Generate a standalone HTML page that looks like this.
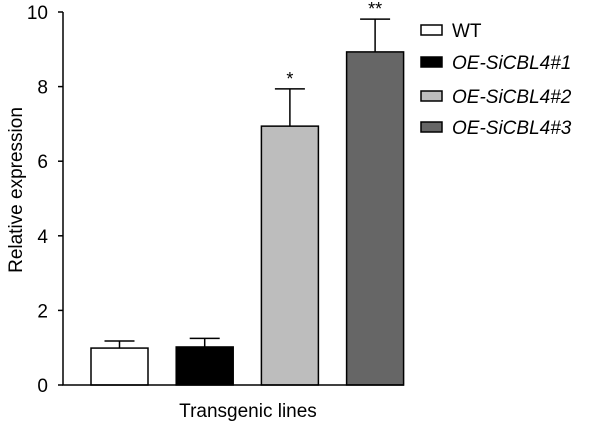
<!DOCTYPE html>
<html><head><meta charset="utf-8"><style>
html,body{margin:0;padding:0;background:#fff;}
svg{display:block;font-family:"Liberation Sans",Arial,sans-serif;}
</style></head><body>
<svg id="chart" width="600" height="425" viewBox="0 0 600 425"></svg>
<script>
const categories = ["WT", "OE-SiCBL4#1", "OE-SiCBL4#2", "OE-SiCBL4#3"];
const values = [0.99, 1.02, 6.94, 8.93];
const errors = [0.19, 0.23, 1.0, 0.88];
const marks = ["", "", "*", "**"];
const yTicks = [0, 2, 4, 6, 8, 10];
const fills = ["#ffffff", "#000000", "#bdbdbd", "#666666"];

const svg = document.getElementById('chart');
const NS = "http://www.w3.org/2000/svg";
const x0 = 63, x1 = 404, y0 = 385, yTop = 12;
const yScale = v => y0 - (v / 10) * (y0 - yTop);
const barW = 57, step = 85.2, firstX = 91;
const xScale = i => firstX + i * step;
function mk(tag, attrs) { const e = document.createElementNS(NS, tag); for (const k in attrs) e.setAttribute(k, attrs[k]); svg.appendChild(e); return e; }

values.forEach((v, i) => {
  const bx = xScale(i), by = yScale(v);
  const r = mk('rect', {x: bx, y: by, width: barW, height: y0 - by, fill: fills[i], stroke: '#000', 'stroke-width': 1.5});
  
  
  const cx = bx + barW / 2, ey = yScale(v + errors[i]);
  const l = mk('line', {x1: cx, x2: cx, y1: by, y2: ey, stroke: '#000', 'stroke-width': 1.5});
  
  
  const c = mk('line', {x1: cx - 15, x2: cx + 15, y1: ey, y2: ey, stroke: '#000', 'stroke-width': 1.5});
  
  
  if (marks[i]) {
    const t = mk('text', {x: cx, y: ey - 4, 'text-anchor': 'middle', 'font-size': 18});
    t.textContent = marks[i];
    
    
  }
});

const ax = mk('path', {d: `M${x0},${yTop} L${x0},${y0} L${x1},${y0}`, fill: 'none', stroke: '#000', 'stroke-width': 1.5});


yTicks.forEach(t => {
  const y = yScale(t);
  const tk = mk('line', {x1: x0 - 5, x2: x0, y1: y, y2: y, stroke: '#000', 'stroke-width': 1.5});
  
  
  const lb = mk('text', {x: 48, y: y + 7, 'text-anchor': 'end', 'font-size': 19});
  lb.textContent = t;
  
  
});

const yt = mk('text', {transform: 'translate(22,190) rotate(-90)', 'text-anchor': 'middle', 'font-size': 19});
yt.textContent = 'Relative expression';


const xt = mk('text', {x: 248, y: 417, 'text-anchor': 'middle', 'font-size': 19});
xt.textContent = 'Transgenic lines';



const legY = [30, 62, 96, 127];
categories.forEach((c, i) => {
  const b = mk('rect', {x: 421, y: legY[i] - 5, width: 21, height: 10, fill: fills[i], stroke: '#000', 'stroke-width': 1.5});
  
  
  const t = mk('text', {x: 452, y: legY[i] + 7, 'font-size': 19, 'font-style': i ? 'italic' : 'normal'});
  t.textContent = c;
  
  
});
</script>
</body></html>
